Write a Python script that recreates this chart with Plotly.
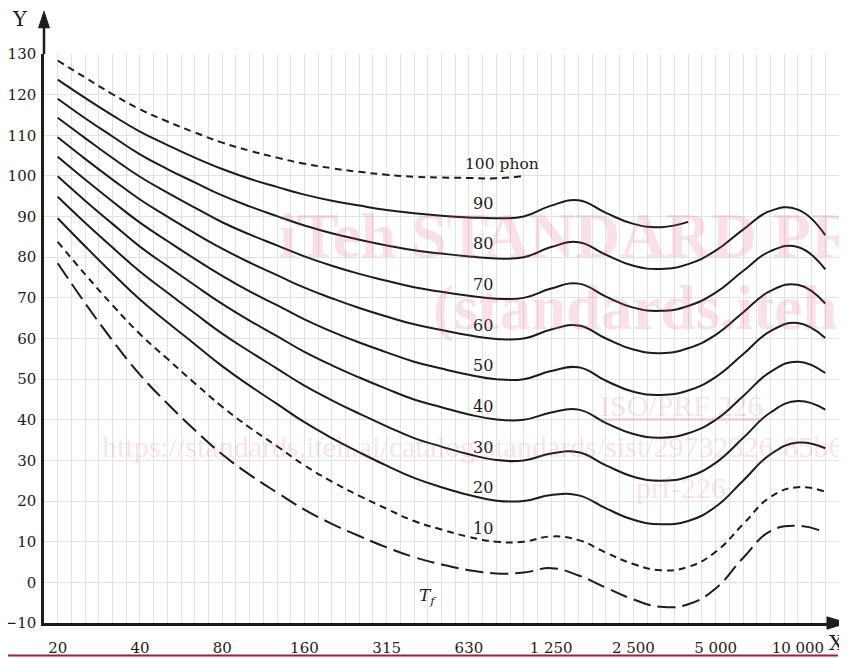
import plotly.graph_objects as go

# ---------------- data ----------------
freq_labels = ["20", "25", "31.5", "40", "50", "63", "80", "100", "125", "160",
               "200", "250", "315", "400", "500", "630", "800", "1000", "1250",
               "1600", "2000", "2500", "3150", "4000", "5000", "6300", "8000",
               "10000", "12500"]

tick_freqs = ["20", "40", "80", "160", "315", "630", "1250", "2500", "5000", "10000"]
tick_texts = ["20", "40", "80", "160", "315", "630", "1 250", "2 500", "5 000", "10 000"]

y_tick_vals = [-10, 0, 10, 20, 30, 40, 50, 60, 70, 80, 90, 100, 110, 120, 130]
y_tick_texts = ["\u221210", "0", "10", "20", "30", "40", "50", "60", "70", "80",
                "90", "100", "110", "120", "130"]

phon_100 = [128.4, 124.2, 120.1, 116.4, 113.4, 110.7, 108.2, 106.2, 104.5, 103.0,
            101.9, 101.0, 100.3, 99.8, 99.6, 99.5, 99.4, 100.0]
phon_90 = [123.7, 119.2, 114.9, 110.9, 107.6, 104.5, 101.7, 99.3, 97.3, 95.4,
           93.9, 92.7, 91.6, 90.8, 90.2, 89.8, 89.6, 90.0, 92.7, 94.0,
           90.9, 88.2, 87.4, 88.7]
phon_80 = [119.0, 114.2, 109.7, 105.3, 101.7, 98.4, 95.2, 92.5, 90.1, 87.8,
           85.9, 84.3, 82.9, 81.7, 80.9, 80.2, 79.7, 80.0, 82.5, 83.7,
           80.6, 77.9, 77.1, 78.3, 81.6, 86.8, 91.4, 91.7, 85.4]
phon_70 = [114.3, 109.3, 104.4, 99.8, 95.9, 92.2, 88.6, 85.6, 82.9, 80.2,
           77.9, 75.9, 74.2, 72.6, 71.5, 70.5, 69.8, 70.0, 72.3, 73.5,
           70.3, 67.6, 66.8, 68.0, 71.3, 76.6, 81.5, 82.5, 77.0]
phon_60 = [109.5, 104.2, 99.1, 94.2, 90.0, 85.9, 82.1, 78.7, 75.6, 72.5,
           69.9, 67.5, 65.4, 63.5, 62.1, 60.8, 59.9, 60.0, 62.2, 63.2,
           60.0, 57.3, 56.4, 57.6, 60.9, 66.4, 71.7, 73.2, 68.6]
phon_50 = [104.7, 99.1, 93.7, 88.5, 84.0, 79.6, 75.4, 71.6, 68.2, 64.7,
           61.7, 59.0, 56.6, 54.3, 52.6, 51.1, 50.0, 50.0, 52.0, 52.9,
           49.6, 46.9, 46.1, 47.2, 50.5, 56.1, 61.8, 63.8, 60.1]
phon_40 = [99.9, 93.9, 88.2, 82.6, 77.8, 73.1, 68.5, 64.4, 60.6, 56.7,
           53.4, 50.4, 47.6, 45.0, 43.1, 41.3, 40.1, 40.0, 41.8, 42.5,
           39.2, 36.5, 35.6, 36.7, 40.0, 45.8, 51.8, 54.3, 51.5]
phon_30 = [94.9, 88.5, 82.4, 76.5, 71.3, 66.2, 61.2, 56.8, 52.6, 48.4,
           44.8, 41.5, 38.4, 35.5, 33.4, 31.5, 30.1, 30.0, 31.7, 32.0,
           28.8, 26.0, 25.0, 26.0, 29.4, 35.5, 41.8, 44.6, 42.5]
phon_20 = [89.6, 82.7, 76.0, 69.6, 64.0, 58.6, 53.2, 48.4, 43.9, 39.4,
           35.5, 32.0, 28.7, 25.7, 23.4, 21.5, 20.1, 20.0, 21.5, 21.4,
           18.2, 15.4, 14.3, 15.1, 18.6, 25.0, 31.5, 34.4, 33.0]
phon_10 = [83.8, 75.8, 68.2, 61.1, 55.0, 49.0, 43.2, 38.1, 33.5, 28.8,
           24.8, 21.3, 18.1, 15.1, 13.0, 11.2, 10.0, 10.0, 11.3, 10.4,
           7.3, 4.5, 3.0, 3.8, 7.5, 14.3, 21.0, 23.4, 22.3]
threshold_tf = [78.5, 68.7, 59.5, 51.1, 44.0, 37.5, 31.5, 26.5, 22.1, 17.9,
                14.4, 11.4, 8.6, 6.2, 4.4, 3.0, 2.2, 2.4, 3.5, 1.7,
                -1.3, -4.2, -6.0, -5.4, -1.5, 6.0, 12.6, 13.9, 12.3]

contour_levels = [100, 90, 80, 70, 60, 50, 40, 30, 20, 10]
contours = [phon_100, phon_90, phon_80, phon_70, phon_60,
            phon_50, phon_40, phon_30, phon_20, phon_10]

# ---------------- styling ----------------
INK = "#1c1c1c"
GRID = "#e2e2e2"
WM = "rgba(225,70,115,0.17)"
SERIF = "DejaVu Serif"
WSERIF = "Liberation Serif"

band_pos = list(range(len(freq_labels)))          # equal spacing per 1/3 octave band
tick_pos = [freq_labels.index(f) for f in tick_freqs]

fig = go.Figure()

for level, values in zip(contour_levels, contours):
    dash = "solid"
    if level in (100, 10):
        dash = "7px,5px"
    fig.add_trace(go.Scatter(
        x=band_pos[:len(values)], y=values, mode="lines",
        line=dict(color=INK, width=2, shape="spline", smoothing=1.3, dash=dash),
        showlegend=False, hoverinfo="skip"))

fig.add_trace(go.Scatter(
    x=band_pos[:len(threshold_tf)], y=threshold_tf, mode="lines",
    line=dict(color=INK, width=2, shape="spline", smoothing=1.3, dash="18px,7px"),
    showlegend=False, hoverinfo="skip"))

# curve labels
for level in contour_levels:
    if level == 100:
        fig.add_annotation(x=14.78, y=level + 2.9, text="100 phon", showarrow=False,
                           xanchor="left", yanchor="middle",
                           font=dict(family=SERIF, size=15.5, color=INK))
    else:
        fig.add_annotation(x=15.5, y=level + 3.3, text=str(level), showarrow=False,
                           xanchor="center", yanchor="middle",
                           font=dict(family=SERIF, size=16, color=INK))
fig.add_annotation(x=13.5, y=-3.5, text="<i>T</i><sub><i>f</i></sub>", showarrow=False,
                   xanchor="center", yanchor="middle",
                   font=dict(family=SERIF, size=17, color=INK))

# axis titles
fig.add_annotation(xref="paper", yref="paper", x=-0.030, y=1.062, text="Y",
                   showarrow=False, xanchor="center", yanchor="middle",
                   font=dict(family=SERIF, size=21, color=INK))
fig.add_annotation(xref="paper", yref="paper", x=1.009, y=-0.035, text="X",
                   showarrow=False, xanchor="right", yanchor="middle",
                   font=dict(family=SERIF, size=20, color=INK))

# watermark
wm_font_big = dict(family=WSERIF, size=63, color=WM, weight="bold")
wm_font = dict(family=WSERIF, size=30, color=WM)
fig.add_annotation(xref="paper", yref="paper", x=0.795, y=0.680,
                   text="iTeh STANDARD PREVIEW", showarrow=False,
                   xanchor="center", yanchor="middle", font=wm_font_big)
fig.add_annotation(xref="paper", yref="paper", x=0.797, y=0.553,
                   text="(standards.iteh.ai)", showarrow=False,
                   xanchor="center", yanchor="middle", font=wm_font_big)
fig.add_annotation(xref="paper", yref="paper", x=0.8013, y=0.383,
                   text="<u>ISO/PRF 226</u>", showarrow=False,
                   xanchor="center", yanchor="middle", font=wm_font)
fig.add_annotation(xref="paper", yref="paper", x=0.071, y=0.311,
                   text="https://standards.iteh.ai/catalog/standards/sist/29732326-85b6-4a3e",
                   showarrow=False, xanchor="left", yanchor="middle", font=wm_font)
fig.add_annotation(xref="paper", yref="paper", x=0.8013, y=0.239,
                   text="prf-226", showarrow=False,
                   xanchor="center", yanchor="middle", font=wm_font)

# axis arrows (extensions beyond the plot area)
fig.add_shape(type="line", xref="paper", yref="paper", x0=0, x1=0, y0=1.0, y1=1.05,
              line=dict(color=INK, width=2.5))
fig.add_shape(type="path", xref="paper", yref="paper",
              path="M -0.0068,1.046 L 0.0068,1.046 L 0,1.075 Z",
              fillcolor=INK, line=dict(color=INK, width=1))
fig.add_shape(type="path", xref="paper", yref="paper",
              path="M 0.9849,0.0108 L 0.9849,-0.0108 L 1.0105,0 Z",
              fillcolor=INK, line=dict(color=INK, width=1))
# bottom rule
fig.add_shape(type="line", xref="paper", yref="paper", x0=-0.0453, x1=0.9987,
              y0=-0.0571, y1=-0.0571, line=dict(color="#a81d35", width=2))

# the page body adds an 8 px offset; size the figure so the plot area
# lands at x 44..839, y 54..623 of the window
fig.update_layout(
    width=839, height=650,
    margin=dict(l=36, r=8, t=46, b=35, autoexpand=False),
    paper_bgcolor="white", plot_bgcolor="white",
    showlegend=False,
)
fig.update_xaxes(
    range=[-0.5, 28.5], tickmode="array", tickvals=tick_pos, ticktext=tick_texts,
    showgrid=True, gridcolor=GRID, gridwidth=1, zeroline=False, automargin=False,
    showline=True, linecolor=INK, linewidth=2.5, ticks="", ticklabelstandoff=9,
    tickfont=dict(family=SERIF, size=15, color=INK),
    minor=dict(tickmode="linear", tick0=-0.5, dtick=0.5, showgrid=True,
               gridcolor=GRID, gridwidth=1, ticks=""),
)
fig.update_yaxes(
    range=[-10, 130], tickmode="array", tickvals=y_tick_vals, ticktext=y_tick_texts,
    showgrid=True, gridcolor=GRID, gridwidth=1, zeroline=False, automargin=False,
    showline=True, linecolor=INK, linewidth=2.5, ticks="", ticklabelstandoff=2,
    tickfont=dict(family=SERIF, size=15, color=INK),
)

fig.write_html("out.html")
